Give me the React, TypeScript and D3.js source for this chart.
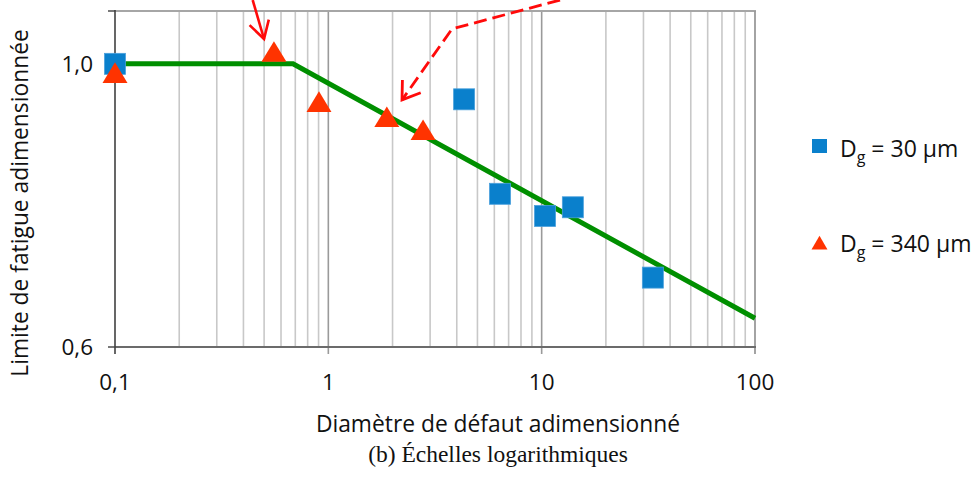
import React from "react";
import * as d3 from "d3";

// ---- data ----
const blueX = [0.1, 4.33, 6.38, 10.37, 14.0, 33.2];
const blueY = [1.0, 0.938, 0.791, 0.76, 0.772, 0.68];
const redX = [0.1, 0.556, 0.904, 1.88, 2.78];
const redY = [0.98, 1.018, 0.93, 0.905, 0.884];
const fitX = [0.1, 0.683, 100];
const fitY = [1.0, 1.0, 0.632];
const xTicks = [0.1, 1, 10, 100];
const xTickLabels = ["0,1", "1", "10", "100"];
const yTicks = [0.6, 1.0];
const yTickLabels = ["0,6", "1,0"];
const seriesNames = ["30 µm", "340 µm"];
// annotation arrows (data coordinates)
const arrowSolidX = [0.442, 0.4995];
const arrowSolidY = [1.122, 1.0458];
const arrowDashX = [12.19, 3.8, 2.215];
const arrowDashY = [1.122, 1.065, 0.937];

const W = 978;
const H = 479;
const FONT = "'Open Sans', Lato, sans-serif";

export default function App() {
  const x = d3.scaleLog().domain([0.1, 100]).range([115, 755]);
  const y = d3.scaleLog().domain([0.6, 1.1]).range([347, 11]);

  const minor: number[] = [];
  for (let dec = 0.1; dec < 100; dec *= 10) {
    for (let k = 2; k <= 9; k++) minor.push(+(dec * k).toPrecision(3));
  }
  const major = [1, 10];

  const line = d3
    .line<number>()
    .x((d, i) => x(fitX[i]))
    .y((d, i) => y(fitY[i]));

  const solidPts = arrowSolidX.map((v, i) => [x(v), y(arrowSolidY[i])] as [number, number]);
  const dashPts = arrowDashX.map((v, i) => [x(v), y(arrowDashY[i])] as [number, number]);
  const pl = d3.line();

  const head = (pts: [number, number][], len: number, ang: number) => {
    const a = pts[pts.length - 2];
    const b = pts[pts.length - 1];
    const th = Math.atan2(a[1] - b[1], a[0] - b[0]);
    const r = (ang * Math.PI) / 180;
    const p1: [number, number] = [b[0] + len * Math.cos(th + r), b[1] + len * Math.sin(th + r)];
    const p2: [number, number] = [b[0] + len * Math.cos(th - r), b[1] + len * Math.sin(th - r)];
    return pl([p1, b, p2]) as string;
  };

  const tri = d3.symbol().type(d3.symbolTriangle).size(245);
  const triLeg = d3.symbol().type(d3.symbolTriangle).size(110);

  return (
    <svg
      width={W}
      height={H}
      style={{ position: "absolute", left: 0, top: 0, background: "#fff" }}
      fontFamily={FONT}
    >
      <rect x={0} y={0} width={W} height={H} fill="#fff" />
      {/* gridlines */}
      {minor.map((v) => (
        <line key={"m" + v} x1={x(v)} x2={x(v)} y1={11} y2={347} stroke="#c8c8c8" strokeWidth={1.6} />
      ))}
      {major.map((v) => (
        <line key={"M" + v} x1={x(v)} x2={x(v)} y1={11} y2={354} stroke="#9a9a9a" strokeWidth={1.6} />
      ))}
      {/* top and right border */}
      <line x1={115} x2={756} y1={11} y2={11} stroke="#a6a6a6" strokeWidth={2} />
      <line x1={755} x2={755} y1={11} y2={354} stroke="#9a9a9a" strokeWidth={1.8} />
      {/* axes */}
      <line x1={115} x2={756} y1={347} y2={347} stroke="#6b6b6b" strokeWidth={2} />
      <line x1={115} x2={115} y1={10} y2={354} stroke="#404040" strokeWidth={1.6} />
      {[0.6, 1.0, 1.1].map((v) => (
        <line key={"yt" + v} x1={108} x2={115} y1={y(v)} y2={y(v)} stroke="#404040" strokeWidth={1.4} />
      ))}
      {xTicks.map((v, i) => (
        <text key={"xl" + v} x={x(v)} y={390} fontSize={22.5} textAnchor="middle" fill="#111">
          {xTickLabels[i]}
        </text>
      ))}
      {yTicks.map((v, i) => (
        <text key={"yl" + v} x={93} y={y(v) + 8} fontSize={22.5} textAnchor="end" fill="#111">
          {yTickLabels[i]}
        </text>
      ))}
      {/* fit line */}
      <path d={line(fitX) as string} fill="none" stroke="#008f00" strokeWidth={5} />
      {/* blue squares */}
      {blueX.map((v, i) => (
        <rect
          key={"b" + i}
          x={x(v) - 10.5}
          y={y(blueY[i]) - 10.5}
          width={21}
          height={21}
          fill="#0a80cc"
          stroke="#4aa0dc"
          strokeWidth={0.8}
        />
      ))}
      {/* red triangles */}
      {redX.map((v, i) => (
        <path
          key={"r" + i}
          d={tri() as string}
          transform={`translate(${x(v)},${y(redY[i]) + 1}) scale(1.05,1)`}
          fill="#ff3300"
        />
      ))}
      {/* annotation arrows */}
      <path d={pl(solidPts) as string} fill="none" stroke="#ff0a0a" strokeWidth={2.6} />
      <path d={head(solidPts, 20, 30)} fill="none" stroke="#ff0a0a" strokeWidth={2.6} />
      <path
        d={pl(dashPts) as string}
        fill="none"
        stroke="#ff0a0a"
        strokeWidth={2.8}
        strokeDasharray="13 6"
      />
      <path d={head(dashPts, 20, 34)} fill="none" stroke="#ff0a0a" strokeWidth={2.8} />
      {/* legend */}
      <rect x={812} y={139} width={15} height={14} fill="#0a80cc" />
      <text x={840} y={157} fontSize={23} fill="#111">
        D<tspan fontSize={16} dy={6}>g</tspan>
        <tspan dy={-6}> = {seriesNames[0]}</tspan>
      </text>
      <path d={triLeg() as string} transform="translate(819.5,245)" fill="#ff3300" />
      <text x={840} y={252} fontSize={23} fill="#111">
        D<tspan fontSize={16} dy={6}>g</tspan>
        <tspan dy={-6}> = {seriesNames[1]}</tspan>
      </text>
      {/* axis titles */}
      <text x={498} y={432} fontSize={22.8} textAnchor="middle" fill="#111">
        Diamètre de défaut adimensionné
      </text>
      <text
        transform="translate(28,203) rotate(-90)"
        fontSize={22.8}
        textAnchor="middle"
        fill="#111"
      >
        Limite de fatigue adimensionnée
      </text>
      <text
        x={498}
        y={462}
        fontSize={23.5}
        textAnchor="middle"
        fill="#111"
        fontFamily="'Liberation Serif', 'DejaVu Serif', serif"
      >
        (b) Échelles logarithmiques
      </text>
    </svg>
  );
}
